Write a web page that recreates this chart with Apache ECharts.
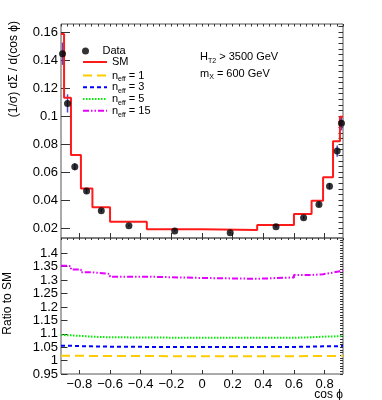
<!DOCTYPE html>
<html>
<head>
<meta charset="utf-8">
<script src="https://cdn.jsdelivr.net/npm/echarts@6/dist/echarts.min.js"></script>
<style>
  html, body { margin: 0; padding: 0; background: #fff; }
  #chart { width: 382px; height: 400px; }
</style>
</head>
<body>
<div id="chart"></div>
<script>
const FONT = 'Liberation Sans, Arial, sans-serif'

// bin edges in cos phi (variable width)
const EDGES = [-0.92, -0.9, -0.855, -0.79, -0.715, -0.6, -0.36, 0, 0.36, 0.6, 0.715, 0.79, 0.855, 0.9, 0.92]
// data points (marker position, value, error)
const DATA_X = [-0.91, -0.8775, -0.83, -0.753, -0.657, -0.477, -0.178, 0.184, 0.483, 0.663, 0.763, 0.832, 0.882, 0.91]
const DATA_Y = [0.1445, 0.109, 0.0638, 0.0464, 0.0324, 0.0217, 0.0179, 0.0167, 0.0209, 0.0274, 0.0369, 0.0498, 0.075, 0.0948]
const DATA_ERR = [0.008, 0.0065, 0.0025, 0.0018, 0.0012, 0.0006, 0.0004, 0.0004, 0.0006, 0.0012, 0.0016, 0.0022, 0.004, 0.005]
// SM prediction per bin
const SM = [0.1585, 0.113, 0.0721, 0.0483, 0.0348, 0.0245, 0.0191, 0.0186, 0.0221, 0.030, 0.0395, 0.0562, 0.082, 0.0995]
// ratio to SM per bin
const R_N1 = [1.018, 1.018, 1.018, 1.017, 1.017, 1.017, 1.016, 1.016, 1.016, 1.017, 1.017, 1.017, 1.018, 1.018]
const R_N3 = [1.055, 1.055, 1.054, 1.053, 1.052, 1.051, 1.051, 1.051, 1.051, 1.052, 1.053, 1.053, 1.054, 1.055]
const R_N5 = [1.095, 1.094, 1.092, 1.089, 1.087, 1.086, 1.085, 1.085, 1.085, 1.087, 1.089, 1.090, 1.091, 1.092]
const R_N15 = [1.354, 1.352, 1.34, 1.329, 1.323, 1.313, 1.308, 1.305, 1.31, 1.319, 1.322, 1.328, 1.333, 1.335]

const X_TICKS = [-0.8, -0.6, -0.4, -0.2, 0, 0.2, 0.4, 0.6, 0.8]
const Y_TOP_TICKS = [0.02, 0.04, 0.06, 0.08, 0.1, 0.12, 0.14, 0.16]
const Y_LOW_TICKS = [0.95, 1, 1.05, 1.1, 1.15, 1.2, 1.25, 1.3, 1.35, 1.4]

const XMIN = -0.92, XMAX = 0.92
const YTOP_MIN = 0.0129, YTOP_MAX = 0.1657
const YLOW_MIN = 0.95, YLOW_MAX = 1.457

const steps = (min, max, step) => {
  const out = []
  for (let k = Math.ceil(min / step - 1e-9); k * step <= max + 1e-9; k++) out.push(+(k * step).toFixed(4))
  return out
}
const histLine = (vals) => vals.map((v, i) => [EDGES[i], v]).concat([[EDGES[EDGES.length - 1], vals[vals.length - 1]]])
const fmtNum = (v) => (v < 0 ? '\u2212' : '') + String(+Math.abs(v).toFixed(2))

const TICK_COLOR = '#333'
const xAx = (grid, ticks, len, labels) => ({
  type: 'value', gridIndex: grid, min: XMIN, max: XMAX,
  axisLine: { show: false, onZero: false },
  splitLine: { show: false },
  axisTick: { inside: true, length: len, customValues: ticks, lineStyle: { color: TICK_COLOR } },
  axisLabel: labels
    ? { customValues: ticks, margin: 4, fontSize: 13, color: '#000', fontFamily: FONT, formatter: fmtNum }
    : { show: false },
})
const yAx = (grid, min, max, ticks, len, labels) => ({
  type: 'value', gridIndex: grid, min, max,
  axisLine: { show: false, onZero: false },
  splitLine: { show: false },
  axisTick: { inside: true, length: len, customValues: ticks, lineStyle: { color: TICK_COLOR } },
  axisLabel: labels
    ? { customValues: ticks, margin: 3, fontSize: 13, color: '#000', fontFamily: FONT, formatter: fmtNum }
    : { show: false },
})

const NAMES = ['Data', 'SM', 'n_eff = 1', 'n_eff = 3', 'n_eff = 5', 'n_eff = 15']
const LEG_Y = [53, 64, 77.5, 89.3, 101, 112.7]
const legendFmt = (name) => {
  const m = name.match(/^n_eff = (\d+)$/)
  return m ? '{n|n}{s|eff}{n| = ' + m[1] + '}' : '{n|' + name + '}'
}
const legends = NAMES.map((name, i) => ({
  data: [name], left: 82, top: LEG_Y[i] - 7.5, padding: 0, selectedMode: false,
  itemWidth: 24, itemHeight: i === 0 ? 7 : 10,
  itemStyle: i === 0 ? {} : { opacity: 0 },
  formatter: legendFmt,
  textStyle: {
    fontFamily: FONT, color: '#000',
    rich: {
      n: { fontSize: 11, lineHeight: 15, fontFamily: FONT, color: '#000' },
      s: { fontSize: 7, lineHeight: 15, verticalAlign: 'bottom', fontFamily: FONT, color: '#000' },
    },
  },
}))

const ratioSeries = (name, vals, color, dash) => ({
  name, type: 'line', step: 'end', xAxisIndex: 2, yAxisIndex: 2,
  data: histLine(vals), symbol: 'none', silent: true,
  lineStyle: { color, width: 2, type: dash },
  itemStyle: { color },
})

const richText = {
  a: { fontSize: 11, lineHeight: 15, fontFamily: FONT, fill: '#000' },
  b: { fontSize: 7, lineHeight: 15, verticalAlign: 'bottom', fontFamily: FONT, fill: '#000' },
}

const chart = echarts.init(document.getElementById('chart'), null, { renderer: 'canvas' })
chart.setOption({
  animation: false,
  backgroundColor: '#fff',
  grid: [
    { left: 61, top: 24, width: 282, height: 214, show: true, borderColor: '#555', borderWidth: 1, backgroundColor: 'transparent' },
    { left: 61, top: 238, width: 282, height: 136, show: true, borderColor: '#555', borderWidth: 1, backgroundColor: 'transparent' },
  ],
  xAxis: [
    xAx(0, X_TICKS, 5, false),
    xAx(0, steps(XMIN, XMAX, 0.04), 2.5, false),
    xAx(1, X_TICKS, 4, true),
    xAx(1, steps(XMIN, XMAX, 0.04), 2, false),
  ],
  yAxis: [
    yAx(0, YTOP_MIN, YTOP_MAX, Y_TOP_TICKS, 9, true),
    yAx(0, YTOP_MIN, YTOP_MAX, steps(YTOP_MIN, YTOP_MAX, 0.004), 4.5, false),
    yAx(1, YLOW_MIN, YLOW_MAX, Y_LOW_TICKS, 6.5, true),
    yAx(1, YLOW_MIN, YLOW_MAX, steps(YLOW_MIN, YLOW_MAX, 0.01), 3, false),
  ],
  legend: legends,
  series: [
    {
      name: 'SM', type: 'line', step: 'end', xAxisIndex: 0, yAxisIndex: 0,
      data: histLine(SM), symbol: 'none', silent: true,
      lineStyle: { color: '#ff1a1a', width: 2 }, itemStyle: { color: '#ff1a1a' },
    },
    {
      name: 'err', type: 'custom', xAxisIndex: 0, yAxisIndex: 0, silent: true, z: 3,
      data: DATA_X.map((x, i) => [x, DATA_Y[i] - DATA_ERR[i], DATA_Y[i] + DATA_ERR[i]]),
      encode: { x: 0, y: [1, 2] },
      renderItem: (params, api) => {
        const p1 = api.coord([api.value(0), api.value(1)])
        const p2 = api.coord([api.value(0), api.value(2)])
        return { type: 'line', shape: { x1: p1[0], y1: p1[1], x2: p2[0], y2: p2[1] }, style: { stroke: '#4a4ad0', lineWidth: 1.5 } }
      },
    },
    {
      name: 'Data', type: 'scatter', xAxisIndex: 0, yAxisIndex: 0, z: 4, silent: true,
      data: DATA_X.map((x, i) => [x, DATA_Y[i]]),
      symbol: 'circle', symbolSize: 7, itemStyle: { color: '#000' },
    },
    ratioSeries('n_eff = 1', R_N1, '#ffcc00', [9, 5]),
    ratioSeries('n_eff = 3', R_N3, '#0000ff', [4, 3]),
    ratioSeries('n_eff = 5', R_N5, '#00ee00', [1.5, 1.5]),
    ratioSeries('n_eff = 15', R_N15, '#e600ff', [6, 2, 1.5, 2, 1.5, 2]),
  ],
  graphic: [
    { type: 'text', x: 200, y: 57, style: { text: '{a|H}{b|T2}{a| > 3500 GeV}', rich: richText, textVerticalAlign: 'middle', font: '11px ' + FONT } },
    { type: 'text', x: 200, y: 73.5, style: { text: '{a|m}{b|X}{a| = 600 GeV}', rich: richText, textVerticalAlign: 'middle', font: '11px ' + FONT } },
    { type: 'text', x: 14, y: 21, rotation: Math.PI / 2, style: { text: '(1/\u03c3) d\u03a3 / d(cos \u03d5)', font: '12px ' + FONT, fill: '#000', textAlign: 'right', textVerticalAlign: 'middle' } },
    { type: 'text', x: 8, y: 272, rotation: Math.PI / 2, style: { text: 'Ratio to SM', font: '12px ' + FONT, fill: '#000', textAlign: 'right', textVerticalAlign: 'middle' } },
    { type: 'text', x: 343, y: 395, style: { text: 'cos \u03d5', font: '12px ' + FONT, fill: '#000', textAlign: 'right', textVerticalAlign: 'middle' } },
  ],
})
</script>
</body>
</html>
